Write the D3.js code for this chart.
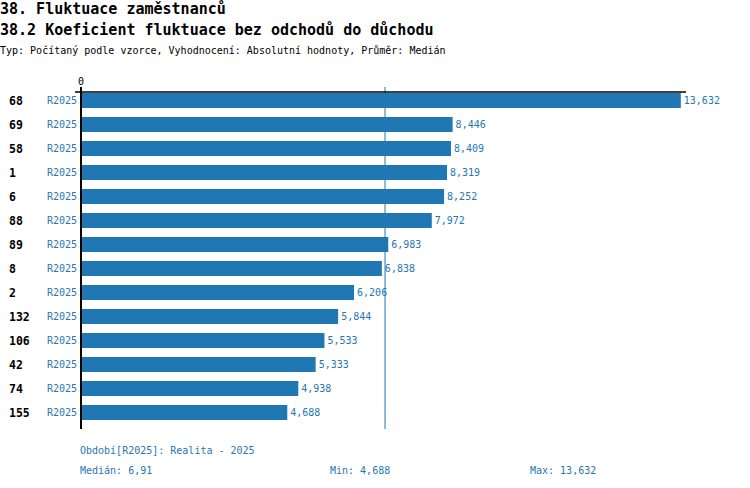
<!DOCTYPE html>
<html>
<head>
<meta charset="utf-8">
<script src="https://cdn.jsdelivr.net/npm/d3@7"></script>
<style>
  body { margin: 0; background: #fff; }
  svg { font-family: "DejaVu Sans Mono", monospace; }
  .blue { fill: #1f77b4; }
</style>
</head>
<body>
<div id="chart"></div>
<script>
// data
const categories = ["68", "69", "58", "1", "6", "88", "89", "8", "2", "132", "106", "42", "74", "155"];
const period = "R2025";
const values = [13.632, 8.446, 8.409, 8.319, 8.252, 7.972, 6.983, 6.838, 6.206, 5.844, 5.533, 5.333, 4.938, 4.688];
const median = 6.91;
const titles = ["38. Fluktuace zaměstnanců", "38.2 Koeficient fluktuace bez odchodů do důchodu"];
const subtitle = "Typ: Počítaný podle vzorce, Vyhodnocení: Absolutní hodnoty, Průměr: Medián";
const periodNote = "Období[R2025]: Realita - 2025";

const fmt = v => d3.format(",.3~f")(v).replace(".", ",");
const data = categories.map((c, i) => ({cat: c, value: values[i]}));

const W = 750, H = 488;
const svg = d3.select("#chart").append("svg")
  .attr("width", W)
  .attr("height", H);

svg.append("text").text(titles[0])
  .attr("x", 0).attr("y", 14)
  .attr("font-size", 15).attr("font-weight", "bold");
svg.append("text").text(titles[1])
  .attr("x", 0).attr("y", 35)
  .attr("font-size", 15).attr("font-weight", "bold");
svg.append("text").text(subtitle)
  .attr("x", 0).attr("y", 54)
  .attr("font-size", 10);

const x = d3.scaleLinear()
  .domain([0, 13.75])
  .range([81, 686]);

const y = d3.scaleBand()
  .domain(categories)
  .range([93, 420])
  .paddingInner(0.375)
  .paddingOuter(0);

// median line
svg.append("line")
  .attr("x1", x(median)).attr("x2", x(median))
  .attr("y1", 87).attr("y2", 429)
  .attr("stroke", "#1f77b4").attr("stroke-width", 1);

// bars
svg.selectAll("rect.bar")
  .data(data)
  .enter()
  .append("rect")
  .attr("class", "bar")
  .attr("x", x(0))
  .attr("y", d => y(d.cat))
  .attr("width", d => x(d.value) - x(0))
  .attr("height", y.bandwidth())
  .attr("fill", "#1f77b4");

// value labels
svg.selectAll("text.val")
  .data(data)
  .enter()
  .append("text")
  .attr("class", "val blue")
  .attr("x", d => x(d.value) + 3)
  .attr("y", d => y(d.cat) + y.bandwidth() / 2)
  .attr("dy", "0.35em")
  .attr("font-size", 10)
  .text(d => fmt(d.value));

// category labels
svg.selectAll("text.cat")
  .data(data)
  .enter()
  .append("text")
  .attr("class", "cat")
  .attr("x", 9)
  .attr("y", d => y(d.cat) + y.bandwidth() / 2)
  .attr("dy", "0.35em")
  .attr("font-size", 11.5)
  .attr("font-weight", "bold")
  .text(d => d.cat);

svg.selectAll("text.per")
  .data(data)
  .enter()
  .append("text")
  .attr("class", "per blue")
  .attr("x", 77)
  .attr("y", d => y(d.cat) + y.bandwidth() / 2)
  .attr("dy", "0.35em")
  .attr("text-anchor", "end")
  .attr("font-size", 10)
  .text(period);

// axes
svg.append("line")
  .attr("x1", 75).attr("x2", x.range()[1])
  .attr("y1", 92).attr("y2", 92)
  .attr("stroke", "#000").attr("stroke-width", 1.5);
svg.append("line")
  .attr("x1", x(0)).attr("x2", x(0))
  .attr("y1", 87).attr("y2", 429)
  .attr("stroke", "#000").attr("stroke-width", 2);
svg.append("text").text("0")
  .attr("x", x(0)).attr("y", 85)
  .attr("text-anchor", "middle")
  .attr("font-size", 10);

// footer
svg.append("text").attr("class", "blue").text(periodNote)
  .attr("x", 80).attr("y", 454).attr("font-size", 10);
svg.append("text").attr("class", "blue").text("Medián: " + fmt(median))
  .attr("x", 80).attr("y", 474).attr("font-size", 10);
svg.append("text").attr("class", "blue").text("Min: " + fmt(d3.min(values)))
  .attr("x", 330).attr("y", 474).attr("font-size", 10);
svg.append("text").attr("class", "blue").text("Max: " + fmt(d3.max(values)))
  .attr("x", 530).attr("y", 474).attr("font-size", 10);
</script>
</body>
</html>
